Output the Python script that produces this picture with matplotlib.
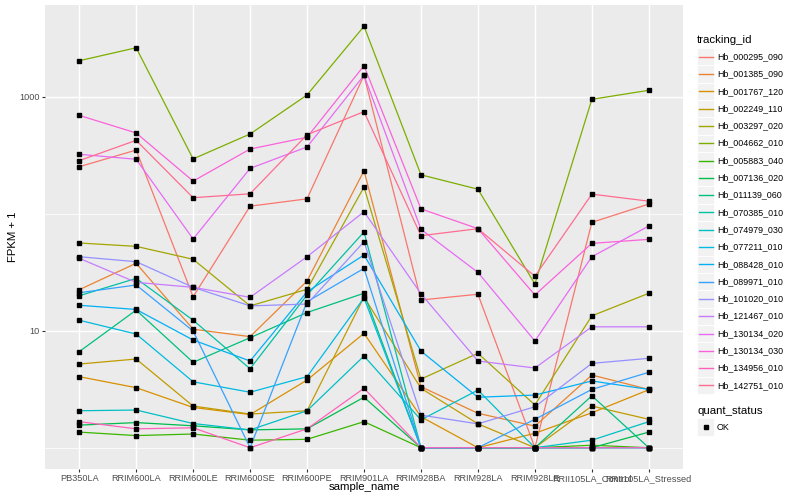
import matplotlib
matplotlib.use("Agg")
import matplotlib.pyplot as plt
import numpy as np
from matplotlib.lines import Line2D
from matplotlib.patches import Rectangle

plt.rcParams['font.family'] = ['Liberation Sans', 'DejaVu Sans']

samples = ["PB350LA", "RRIM600LA", "RRIM600LE", "RRIM600SE", "RRIM600PE",
           "RRIM901LA", "RRIM928BA", "RRIM928LA", "RRIM928LE",
           "RRII105LA_Control", "RRII105LA_Stressed"]

tracking_ids = ["Hb_000295_090", "Hb_001385_090", "Hb_001767_120", "Hb_002249_110",
                "Hb_003297_020", "Hb_004662_010", "Hb_005883_040", "Hb_007136_020",
                "Hb_011139_060", "Hb_070385_010", "Hb_074979_030", "Hb_077211_010",
                "Hb_088428_010", "Hb_089971_010", "Hb_101020_010", "Hb_121467_010",
                "Hb_130134_020", "Hb_130134_030", "Hb_134956_010", "Hb_142751_010"]

colors = ["#F8766D", "#EA8331", "#D89000", "#C09B00", "#A3A500", "#7CAE00",
          "#39B600", "#00BB4E", "#00BF7D", "#00C1A3", "#00BFC4", "#00BAE0",
          "#00B0F6", "#35A2FF", "#9590FF", "#C77CFF", "#E76BF3", "#FA62DB",
          "#FF62BC", "#FF6C91"]

# FPKM + 1 values per sample (order of `samples`)
hb_000295_090 = [252, 350, 19.5, 116, 134, 1524, 18.3, 20.5, 1.0, 84.4, 121]
hb_001385_090 = [22.4, 37.7, 10.3, 8.9, 26.6, 233, 3.32, 1.97, 1.53, 4.18, 3.15]
hb_001767_120 = [4.05, 3.26, 2.21, 1.92, 3.79, 9.5, 1.84, 1.0, 1.33, 1.99, 3.13]
hb_002249_110 = [5.19, 5.73, 2.27, 1.94, 2.07, 19.4, 3.22, 1.60, 1.0, 2.27, 1.75]
hb_003297_020 = [56.2, 52.6, 40.8, 16.3, 22.6, 169, 3.86, 6.41, 2.32, 13.4, 20.9]
hb_004662_010 = [2030, 2620, 294, 480, 1035, 4000, 215, 162, 25.1, 950, 1135]
hb_005883_040 = [1.36, 1.27, 1.31, 1.16, 1.18, 1.67, 1.0, 1.0, 1.0, 1.05, 1.0]
hb_007136_020 = [1.56, 1.64, 1.54, 1.42, 1.45, 2.70, 1.0, 1.0, 1.0, 1.0, 1.36]
hb_011139_060 = [6.62, 15.0, 5.37, 8.71, 14.3, 20.9, 1.0, 1.0, 1.0, 2.78, 1.0]
hb_070385_010 = [19.9, 28.0, 12.3, 4.73, 20.2, 69.8, 1.0, 1.0, 1.0, 1.0, 1.0]
hb_074979_030 = [2.07, 2.10, 1.61, 1.42, 2.07, 6.08, 1.73, 3.11, 1.0, 1.16, 1.67]
hb_077211_010 = [12.3, 9.37, 3.66, 2.98, 4.05, 19.1, 1.0, 1.0, 1.0, 1.0, 1.0]
hb_088428_010 = [16.5, 15.2, 8.33, 5.51, 21.5, 44.4, 6.70, 2.70, 2.82, 3.72, 3.15]
hb_089971_010 = [21.1, 24.6, 9.94, 1.0, 17.7, 34.1, 1.0, 1.0, 1.75, 3.15, 4.41]
hb_101020_010 = [42.9, 38.9, 23.5, 16.3, 16.9, 57.6, 1.90, 1.60, 2.24, 5.26, 5.81]
hb_121467_010 = [41.6, 25.9, 23.5, 19.3, 42.9, 104, 20.7, 5.51, 4.80, 10.8, 10.8]
hb_130134_020 = [322, 292, 60.8, 244, 372, 1524, 73.6, 31.5, 8.17, 42.9, 78.5]
hb_130134_030 = [693, 490, 190, 357, 450, 1841, 110, 74.5, 20.2, 55.8, 60.4]
hb_134956_010 = [1.67, 1.45, 1.48, 1.0, 1.45, 3.22, 1.0, 1.0, 1.0, 1.0, 1.0]
hb_142751_010 = [284, 424, 137, 148, 473, 745, 64.9, 74.5, 29.2, 147, 128]

series = [hb_000295_090, hb_001385_090, hb_001767_120, hb_002249_110,
          hb_003297_020, hb_004662_010, hb_005883_040, hb_007136_020,
          hb_011139_060, hb_070385_010, hb_074979_030, hb_077211_010,
          hb_088428_010, hb_089971_010, hb_101020_010, hb_121467_010,
          hb_130134_020, hb_130134_030, hb_134956_010, hb_142751_010]

W, H = 800, 500
fig = plt.figure(figsize=(8, 5), dpi=100)
fig.patch.set_facecolor("white")

# panel in pixel coordinates
pl, pr, pt, pb = 45, 683, 5.2, 468.8
ax = fig.add_axes([pl / W, 1 - pb / H, (pr - pl) / W, (pb - pt) / H])
ax.set_facecolor("#EBEBEB")
for s in ax.spines.values():
    s.set_visible(False)

x = np.arange(len(samples))
allv = np.concatenate([np.asarray(s, float) for s in series])
lo, hi = np.log10(allv.min()), np.log10(allv.max())
ex = (hi - lo) * 0.05
ax.set_yscale("log")
ax.set_ylim(10 ** (lo - ex), 10 ** (hi + ex))
ax.set_xlim(-0.6, len(samples) - 1 + 0.6)

# grid
for yv in [1, 100]:
    ax.axhline(yv, color="white", lw=0.55, zorder=0.5)
for yv in [10, 1000]:
    ax.axhline(yv, color="white", lw=1.05, zorder=0.6)
for xv in x:
    ax.axvline(xv, color="white", lw=1.05, zorder=0.6)

for vals, c in zip(series, colors):
    ax.plot(x, vals, color=c, lw=0.9, zorder=2, solid_capstyle="butt")
for vals in series:
    ax.plot(x, vals, ls="none", marker="s", ms=2.9, color="black", zorder=3)

ax.set_xticks(x)
ax.set_xticklabels(samples, fontsize=6.6, color="#4D4D4D")
ax.set_yticks([10, 1000])
ax.set_yticklabels(["10", "1000"], fontsize=6.6, color="#4D4D4D")
ax.yaxis.set_minor_locator(matplotlib.ticker.NullLocator())
ax.tick_params(axis="both", length=2.2, width=0.8, color="#333333", pad=1.8)

fig.text(364 / W, 1 - 487 / H, "sample_name", ha="center", va="center",
         fontsize=8.2, color="black")
fig.text(13 / W, 1 - 237 / H, "FPKM + 1", ha="center", va="center",
         rotation=90, fontsize=8.2, color="black")

# legend: tracking_id
fig.text(697 / W, 1 - 40 / H, "tracking_id", ha="left", va="center",
         fontsize=8.2, color="black")
step = 17.3
for i, (tid, c) in enumerate(zip(tracking_ids, colors)):
    yc = 56.7 + step * i
    fig.patches.append(Rectangle((697 / W, 1 - (yc + step / 2) / H), 17.3 / W, step / H,
                                 transform=fig.transFigure, facecolor="#F2F2F2",
                                 edgecolor="white", lw=0.6))
    fig.lines.append(Line2D([699 / W, 712.5 / W], [1 - yc / H, 1 - yc / H],
                            transform=fig.transFigure, color=c, lw=1.0))
    fig.text(717 / W, 1 - yc / H, tid, ha="left", va="center",
             fontsize=6.4, color="black")

# legend: quant_status
fig.text(697 / W, 1 - 411 / H, "quant_status", ha="left", va="center",
         fontsize=8.2, color="black")
yc = 427
fig.patches.append(Rectangle((697 / W, 1 - (yc + step / 2) / H), 17.3 / W, step / H,
                             transform=fig.transFigure, facecolor="#F2F2F2",
                             edgecolor="white", lw=0.6))
fig.lines.append(Line2D([705.5 / W], [1 - yc / H], transform=fig.transFigure,
                        marker="s", ms=2.9, color="black", ls="none"))
fig.text(717 / W, 1 - yc / H, "OK", ha="left", va="center", fontsize=6.4, color="black")

fig.savefig("out.png", dpi=100)
